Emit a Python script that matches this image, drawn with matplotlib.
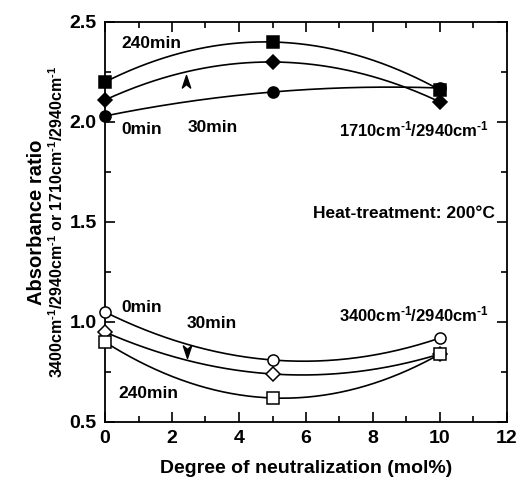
import numpy as np
import matplotlib.pyplot as plt
from matplotlib.path import Path
from matplotlib.ticker import MultipleLocator

plt.rcParams['font.family'] = ['Liberation Sans', 'DejaVu Sans']
plt.rcParams['font.weight'] = 'bold'
plt.rcParams['axes.labelweight'] = 'bold'
plt.rcParams['mathtext.fontset'] = 'custom'
plt.rcParams['mathtext.rm'] = 'Liberation Sans:bold'
plt.rcParams['mathtext.default'] = 'rm'

# data
neut = [0, 5, 10]
# 1710/2940 ratio (filled markers)
c1710_0min = [2.03, 2.15, 2.17]
c1710_30min = [2.11, 2.30, 2.10]
c1710_240min = [2.20, 2.40, 2.16]
# 3400/2940 ratio (open markers)
c3400_0min = [1.05, 0.81, 0.92]
c3400_30min = [0.95, 0.74, 0.84]
c3400_240min = [0.90, 0.62, 0.84]

fig = plt.figure(figsize=(5.21, 4.91), dpi=100)
ax = fig.add_axes([105/521, 1 - 422/491, 402/521, 400/491])

xs = np.linspace(0, 10, 200)
series = [
    (c1710_240min, 's', 'k'), (c1710_30min, 'D', 'k'), (c1710_0min, 'o', 'k'),
    (c3400_0min, 'o', 'w'), (c3400_30min, 'D', 'w'), (c3400_240min, 's', 'w'),
]
for ys, m, fc in series:
    p = np.polyfit(neut, ys, 2)
    ax.plot(xs, np.polyval(p, xs), color='k', lw=1.2, zorder=2)
    ms = 7 if m == 'D' else 8
    ax.plot(neut, ys, ls='none', marker=m, ms=ms, mfc=fc, mec='k', mew=1.1,
            zorder=3, clip_on=False)

# arrowheads (chevron)
head = Path([(0, 1), (0.6, -0.8), (0, -0.3), (-0.6, -0.8), (0, 1)],
            [Path.MOVETO, Path.LINETO, Path.LINETO, Path.LINETO, Path.CLOSEPOLY])
ax.plot([2.43], [2.20], marker=head, ms=10, color='k', ls='none')
head_dn = Path([(0, -1), (0.6, 0.8), (0, 0.3), (-0.6, 0.8), (0, -1)],
               [Path.MOVETO, Path.LINETO, Path.LINETO, Path.LINETO, Path.CLOSEPOLY])
ax.plot([2.45], [0.855], marker=head_dn, ms=10, color='k', ls='none')

sup = r'$^{\text{-1}}$'
fs = 12.5
ax.text(0.5, 2.39, '240min', fontsize=fs, va='center')
ax.text(0.5, 1.96, '0min', fontsize=fs, va='center')
ax.text(2.47, 1.97, '30min', fontsize=fs, va='center')
ax.text(7.0, 1.965, f'1710cm{sup}/2940cm{sup}', fontsize=12, va='center')
ax.text(6.2, 1.54, 'Heat-treatment: 200°C', fontsize=fs, va='center')
ax.text(0.5, 1.075, '0min', fontsize=fs, va='center')
ax.text(2.43, 0.995, '30min', fontsize=fs, va='center')
ax.text(7.0, 1.04, f'3400cm{sup}/2940cm{sup}', fontsize=12, va='center')
ax.text(0.4, 0.64, '240min', fontsize=fs, va='center')

ax.set_xlim(0, 12)
ax.set_ylim(0.5, 2.5)
ax.xaxis.set_major_locator(MultipleLocator(2))
ax.xaxis.set_minor_locator(MultipleLocator(1))
ax.yaxis.set_minor_locator(MultipleLocator(0.25))
ax.set_yticks([0.5, 1.0, 1.5, 2.0, 2.5])
ax.set_yticklabels(['0.5', '1.0', '1.5', '2.0', '2.5'])
ax.tick_params(which='both', direction='in', top=True, right=True, width=1.2)
ax.tick_params(which='major', length=7, labelsize=14, pad=6)
ax.tick_params(which='minor', length=4)
for s in ax.spines.values():
    s.set_linewidth(1.3)

ax.set_xlabel('Degree of neutralization (mol%)', fontsize=14, labelpad=9)
fig.text(37/521, 1 - 222/491, 'Absorbance ratio', rotation=90, fontsize=14.5,
         ha='center', va='center')
fig.text(57/521, 1 - 222/491,
         f'3400cm{sup}/2940cm{sup} or 1710cm{sup}/2940cm{sup}',
         rotation=90, fontsize=11.5, ha='center', va='center')

fig.savefig('out.png', dpi=100)
